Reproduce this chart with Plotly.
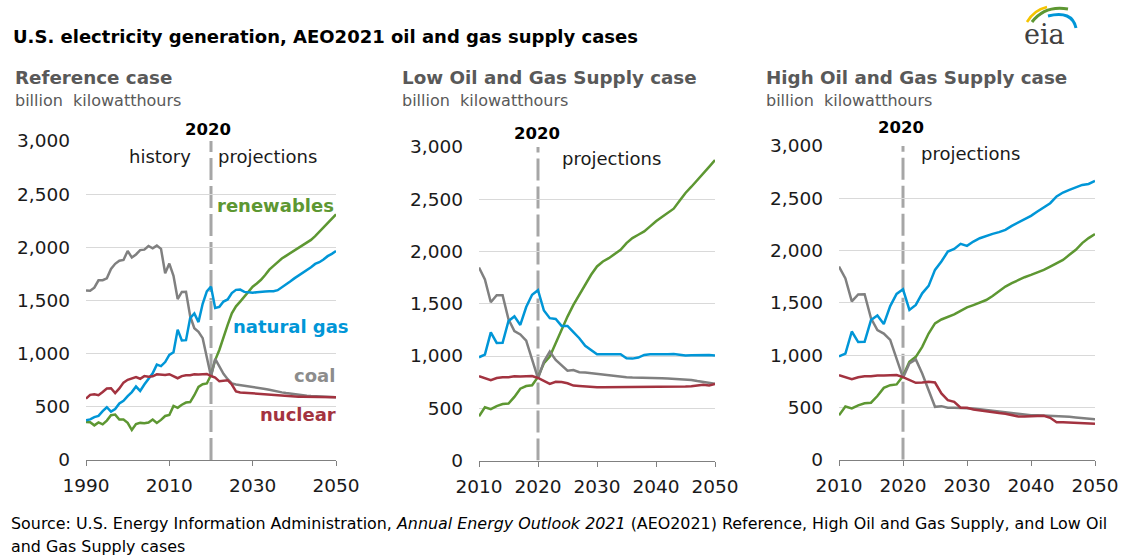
import numpy as np
import plotly.graph_objects as go

# ---------------- data ----------------
years_hist = list(range(1990, 2021))
coal_hist = [1594, 1591, 1621, 1690, 1691, 1709, 1796, 1845, 1874, 1881, 1966, 1904, 1933, 1974, 1978,
             2013, 1991, 2016, 1986, 1756, 1847, 1733, 1514, 1581, 1582, 1352, 1239, 1206, 1146, 965, 785]
gas_hist = [373, 382, 404, 415, 460, 496, 455, 479, 532, 557, 601, 639, 691, 650, 710, 761, 816, 897,
            883, 921, 988, 1014, 1226, 1125, 1127, 1335, 1379, 1297, 1469, 1586, 1630]
nuclear_hist = [577, 613, 619, 610, 640, 673, 675, 629, 673, 728, 754, 769, 780, 764, 789, 782, 787,
                806, 806, 799, 807, 790, 769, 789, 797, 797, 806, 805, 807, 809, 790]
renew_hist = [357, 355, 326, 353, 335, 371, 421, 427, 381, 380, 350, 282, 338, 349, 345, 353, 381, 348,
              377, 414, 424, 509, 491, 520, 540, 545, 609, 687, 713, 720, 800]

years_proj = list(range(2021, 2051))
# Reference case
ref_coal = [950, 880, 810, 760, 720, 710, 705, 700, 695, 690, 682, 675, 668, 660, 650, 642, 636, 630,
            624, 618, 612, 608, 605, 602, 600, 598, 596, 594, 592, 590]
ref_gas = [1430, 1440, 1490, 1510, 1570, 1600, 1603, 1581, 1578, 1572, 1578, 1578, 1584, 1587, 1587,
           1597, 1622, 1654, 1679, 1708, 1733, 1759, 1790, 1812, 1844, 1860, 1885, 1917, 1939, 1965]
ref_nuclear = [775, 740, 745, 750, 710, 645, 635, 632, 630, 628, 625, 622, 620, 618, 615, 610, 605, 600,
               598, 597, 596, 595, 594, 594, 593, 592, 592, 591, 590, 590]
ref_renew = [940, 1035, 1160, 1270, 1380, 1445, 1490, 1540, 1585, 1630, 1660, 1695, 1740, 1790, 1825,
             1865, 1895, 1920, 1945, 1965, 1990, 2015, 2040, 2070, 2105, 2145, 2195, 2235, 2275, 2310]
# Low Oil and Gas Supply case
low_coal = [946, 1042, 963, 915, 860, 866, 845, 842, 835, 829, 820, 813, 810, 804, 797, 794, 791, 789,
            788, 787, 786, 784, 782, 780, 778, 770, 760, 752, 744, 735]
low_gas = [1435, 1362, 1355, 1288, 1288, 1228, 1170, 1097, 1058, 1017, 1017, 1017, 1017, 1017, 979, 975,
           985, 1010, 1017, 1017, 1010, 1017, 1020, 1010, 1004, 1007, 1010, 1010, 1010, 1004]
low_nuclear = [762, 733, 754, 751, 739, 717, 714, 708, 701, 701, 701, 701, 701, 701, 708, 708, 708, 708,
               708, 708, 708, 708, 708, 708, 708, 710, 717, 724, 717, 733]
low_renew = [931, 994, 1122, 1266, 1377, 1489, 1585, 1681, 1777, 1857, 1905, 1936, 1975, 2016, 2080,
             2128, 2160, 2192, 2240, 2290, 2330, 2370, 2410, 2485, 2560, 2620, 2680, 2745, 2810, 2875]
# High Oil and Gas Supply case
high_coal = [921, 959, 825, 665, 506, 512, 497, 497, 497, 497, 490, 482, 475, 466, 458, 452, 445, 438,
             432, 426, 424, 422, 420, 418, 417, 410, 404, 399, 394, 388]
high_gas = [1432, 1480, 1591, 1662, 1815, 1895, 1990, 2016, 2064, 2045, 2086, 2118, 2140, 2160, 2176,
            2198, 2236, 2267, 2300, 2332, 2373, 2415, 2453, 2517, 2555, 2580, 2602, 2628, 2637, 2666]
high_nuclear = [762, 735, 738, 745, 738, 634, 570, 554, 497, 497, 481, 471, 462, 449, 446, 440, 424, 414,
                414, 417, 424, 420, 401, 359, 359, 356, 350, 343, 343, 343]
high_renew = [936, 984, 1079, 1207, 1303, 1341, 1366, 1389, 1424, 1456, 1479, 1501, 1527, 1566, 1614,
              1656, 1688, 1720, 1745, 1767, 1790, 1815, 1847, 1879, 1911, 1959, 2007, 2071, 2119, 2157]

y_ticks = [0, 500, 1000, 1500, 2000, 2500, 3000]
y_tick_labels = ["0", "500", "1,000", "1,500", "2,000", "2,500", "3,000"]
projection_year = 2020

# ---------------- styling ----------------
W, H = 1121, 559
FONT = "DejaVu Sans, Liberation Sans, sans-serif"
C_GAS, C_REN, C_COAL, C_NUC = "#0096D7", "#5D9732", "#808080", "#A33340"
C_SUB = "#595959"
C_TXT = "#1A1A1A"


def px(x, y):
    return x / W, 1 - y / H


cases = [
    ("Reference case", 1990, ref_coal, ref_gas, ref_nuclear, ref_renew, (86, 336), (460, 141), 20),
    ("Low Oil and Gas Supply case", 2010, low_coal, low_gas, low_nuclear, low_renew, (479, 715), (460.5, 147), 10),
    ("High Oil and Gas Supply case", 2010, high_coal, high_gas, high_nuclear, high_renew, (839, 1095), (459.7, 146), 10),
]

fig = go.Figure()
yrs_all = np.array(years_hist + years_proj)
for i, (name, start, coal, gas, nuc, ren, (xl, xr), (yb, yt), dt) in enumerate(cases):
    n = i + 1
    xa = "x" if n == 1 else f"x{n}"
    ya = "y" if n == 1 else f"y{n}"
    mask = yrs_all >= start
    for vals_h, vals_p, col in [(renew_hist, ren, C_REN), (coal_hist, coal, C_COAL),
                                (gas_hist, gas, C_GAS), (nuclear_hist, nuc, C_NUC)]:
        vals = np.array(vals_h + vals_p)
        fig.add_trace(go.Scatter(x=yrs_all[mask], y=vals[mask], mode="lines",
                                 line=dict(color=col, width=2.5), xaxis=xa, yaxis=ya,
                                 showlegend=False, hoverinfo="x+y"))
    xkey = "xaxis" if n == 1 else f"xaxis{n}"
    ykey = "yaxis" if n == 1 else f"yaxis{n}"
    fig.update_layout(**{
        xkey: dict(domain=[xl / W, xr / W], range=[start, 2050], anchor=ya, automargin=False,
                   tickmode="linear", tick0=start, dtick=dt, ticks="outside", ticklen=5,
                   tickcolor="#808080", showline=True, linecolor="#808080", linewidth=1,
                   showgrid=False, zeroline=False, ticklabelstandoff=4,
                   tickfont=dict(family=FONT, size=18.5, color=C_TXT)),
        ykey: dict(domain=[1 - yb / H, 1 - yt / H], range=[0, 3000], anchor=xa, automargin=False,
                   tickvals=y_ticks, ticktext=y_tick_labels, showgrid=True, gridcolor="#D9D9D9",
                   gridwidth=1, zeroline=False, showline=False, ticks="",
                   ticklabelstandoff=15,
                   tickfont=dict(family=FONT, size=18.5, color=C_TXT)),
    })
    fig.add_shape(type="line", xref=xa, yref=ya, x0=projection_year, x1=projection_year,
                  y0=0, y1=3000, line=dict(color="#A6A6A6", width=3, dash="22px,6px"), layer="below")

annotations = []


def ann(text, x, y, size, color="#000000", bold=False, xanchor="left", family=FONT):
    X, Y = px(x, y)
    t = f"<b>{text}</b>" if bold else text
    annotations.append(dict(text=t, x=X, y=Y, xref="paper", yref="paper", xanchor=xanchor,
                            yanchor="middle", showarrow=False,
                            font=dict(family=family, size=size, color=color)))


ann("U.S. electricity generation, AEO2021 oil and gas supply cases", 11, 37, 18, "#000000", True)
for (name, *_), xleft in zip(cases, [13, 400, 764]):
    ann(name, xleft, 77, 18.3, C_SUB, True)
    ann("billion  kilowatthours", xleft, 100, 16, C_SUB)
ann("2020", 208, 129, 16.5, "#000000", True, "center")
ann("2020", 537, 133, 16.5, "#000000", True, "center")
ann("2020", 901, 128, 16.5, "#000000", True, "center")
ann("history", 160, 157, 18, C_TXT, False, "center")
ann("projections", 216, 157, 18, C_TXT, False, "left")
ann("projections", 560, 158, 18, C_TXT, False, "left")
ann("projections", 919, 153, 18, C_TXT, False, "left")
ann("renewables", 336, 205, 18, C_REN, True, "right")
ann("natural gas", 351, 327, 18, C_GAS, True, "right")
ann("coal", 337, 375, 18, "#8C8C8C", True, "right")
ann("nuclear", 338, 414, 18, C_NUC, True, "right")

# source (two lines)
ann("Source: U.S. Energy Information Administration, <i>Annual Energy Outlook 2021</i> (AEO2021) Reference, "
    "High Oil and Gas Supply, and Low Oil", 9, 523, 15.9, "#000000")
ann("and Gas Supply cases", 9, 546, 15.9, "#000000")

# eia logo
ann("eia", 1044, 35, 27, "#404040", False, "center", "DejaVu Serif, serif")


def path_px(points):
    (x0, y0), (cx, cy), (x1, y1) = points
    a, b = px(x0, y0)
    c, d = px(cx, cy)
    e, f = px(x1, y1)
    return f"M {a} {b} Q {c} {d} {e} {f}"


shapes = [
    dict(type="path", xref="paper", yref="paper", path=path_px([(1027, 22), (1034, 10), (1047, 7)]),
         line=dict(color="#F5C400", width=2.5)),
    dict(type="path", xref="paper", yref="paper", path=path_px([(1032, 22), (1045, 5), (1068, 9)]),
         line=dict(color="#5D9732", width=3)),
    dict(type="path", xref="paper", yref="paper", path=path_px([(1048, 16), (1072, 10), (1076, 28)]),
         line=dict(color="#0096D7", width=3)),
]
for s in shapes:
    fig.add_shape(**s)

fig.update_layout(width=W, height=H, margin=dict(l=0, r=0, t=0, b=0, pad=0, autoexpand=False),
                  showlegend=False,
                  paper_bgcolor="white", plot_bgcolor="white", annotations=annotations,
                  font=dict(family=FONT))

fig.write_html("out.html", config={"displayModeBar": False},
               post_script="document.body.style.margin='0';document.body.style.overflow='hidden';")
